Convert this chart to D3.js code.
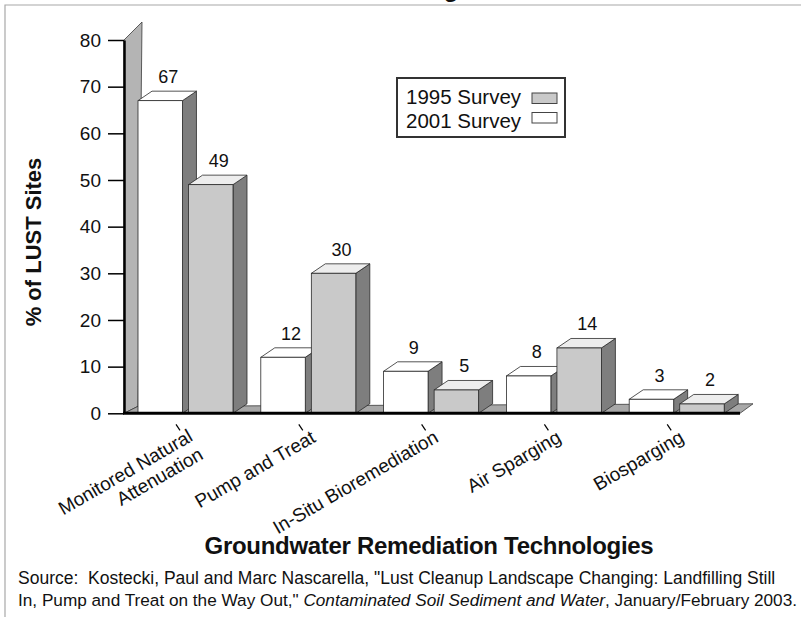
<!DOCTYPE html>
<html><head><meta charset="utf-8">
<script src="https://cdn.jsdelivr.net/npm/d3@7"></script>
<style>
body{margin:0;background:#fff}
svg{display:block}
text{font-family:"Liberation Sans",Arial,Helvetica,sans-serif;fill:#111}
</style>
</head><body>
<svg id="c" width="801" height="617"></svg>
<script>
// ---- data ----
const categories = ["MNA","PT","ISB","AS","BS"];
const categoryLabels = [["Monitored Natural","Attenuation"],["Pump and Treat"],["In-Situ Bioremediation"],["Air Sparging"],["Biosparging"]];
const seriesKeys = ["2001","1995"];
const values2001 = [67,12,9,8,3];
const values1995 = [49,30,5,14,2];
const legendLabels = ["1995 Survey","2001 Survey"];
const yTicks = [0,10,20,30,40,50,60,70,80];
const yTitle = "% of LUST Sites";
const xTitle = "Groundwater Remediation Technologies";
const sourceLine1 = "Source:  Kostecki, Paul and Marc Nascarella, \"Lust Cleanup Landscape Changing: Landfilling Still";
const sourceLine2a = "In, Pump and Treat on the Way Out,\" ";
const sourceLine2b = "Contaminated Soil Sediment and Water";
const sourceLine2c = ", January/February 2003.";

// ---- layout ----
const svg = d3.select("#c");
const axisX = 124;
const y = d3.scaleLinear().domain([0,80]).range([413.3,40]);
const x = d3.scaleBand().domain(categories).range([138,752]).paddingInner(0).paddingOuter(0);
const x1 = d3.scaleBand().domain(seriesKeys).range([0,95]).paddingInner(0.12);
const dx = 14, dy = -9.5;
const fills = {"2001":{front:"#ffffff",top:"#ffffff",side:"#7e7e7e"},
               "1995":{front:"#c9c9c9",top:"#ededed",side:"#7e7e7e"}};
const line = d3.line();

// frame
svg.append("path").attr("d","M5,617V5H801").attr("fill","none").attr("stroke","#a8a8a8").attr("stroke-width",1.2);
// cut-off title fragment (title lies above the visible area in the reference)
svg.append("text").attr("x",451).attr("y",-3).attr("text-anchor","middle").attr("font-size",24).attr("font-weight","bold").text("g");

const y0 = y(0), yTop = y(80);
const floorEnd = x.range()[1] - 12;
// back/left wall
svg.append("path").attr("d", line([[axisX,y0],[axisX,yTop],[axisX+18,yTop-18],[axisX+14,y0-7]])+"Z")
  .attr("fill","#b4b4b4").attr("stroke","#3a3a3a").attr("stroke-width",0.8);
// floor
svg.append("path").attr("d", line([[axisX,y0],[floorEnd,y0],[floorEnd+13,y0-9.5],[axisX+14,y0-7]])+"Z")
  .attr("fill","#a8a8a8").attr("stroke","#3a3a3a").attr("stroke-width",0.8);

// bars
const data = categories.map((c,i)=>({c, vals:[{k:"2001",v:values2001[i]},{k:"1995",v:values1995[i]}]}));
const bw = x1.bandwidth();
data.forEach(d=>{
  d.vals.forEach(s=>{
    const bx = x(d.c)+x1(s.k), top = y(s.v), bot = y0;
    const f = fills[s.k];
    const g = svg.append("g");
    g.append("path").attr("d", line([[bx+bw,bot],[bx+bw,top],[bx+bw+dx,top+dy],[bx+bw+dx,bot+dy]])+"Z")
      .attr("fill",f.side).attr("stroke","#2a2a2a").attr("stroke-width",0.8).attr("stroke-linejoin","round");
    g.append("path").attr("d", line([[bx,top],[bx+bw,top],[bx+bw+dx,top+dy],[bx+dx,top+dy]])+"Z")
      .attr("fill",f.top).attr("stroke","#2a2a2a").attr("stroke-width",0.8).attr("stroke-linejoin","round");
    g.append("rect").attr("x",bx).attr("y",top).attr("width",bw).attr("height",bot-top)
      .attr("fill",f.front).attr("stroke","#2a2a2a").attr("stroke-width",0.8);
    svg.append("text").attr("x",bx+bw/2+dx/2+1).attr("y",top+dy-8).attr("text-anchor","middle")
      .attr("font-size",18).text(s.v);
  });
});

// y axis
const ax = svg.append("g").attr("transform",`translate(${axisX},0)`)
  .call(d3.axisLeft(y).tickValues(yTicks).tickSize(16).tickSizeOuter(0).tickPadding(7));
ax.select(".domain").attr("stroke","#000").attr("stroke-width",2.5);
ax.selectAll(".tick line").attr("stroke","#000").attr("stroke-width",1.5);
ax.selectAll(".tick text").attr("font-size",19).attr("font-family",null).attr("fill","#111");

// front floor edge
svg.append("line").attr("x1",axisX-1).attr("x2",floorEnd).attr("y1",y0).attr("y2",y0)
  .attr("stroke","#000").attr("stroke-width",3);

// category ticks & labels
categories.forEach((c,i)=>{
  const t = x(c)+40;
  svg.append("line").attr("x1",t-2).attr("y1",y0+11).attr("x2",t+2).attr("y2",y0+17)
    .attr("stroke","#000").attr("stroke-width",1.2);
  const lines = categoryLabels[i];
  const ty = lines.length>1 ? 440 : 441;
  const txt = svg.append("text").attr("transform",`translate(${t+16},${ty}) rotate(-30)`)
    .attr("text-anchor","end").attr("font-size",19);
  lines.forEach((l,j)=>{
    txt.append("tspan").attr("x", 0).attr("dy", j===0?0:"1.1em").text(l);
  });
});

// axis titles
svg.append("text").attr("transform","translate(41,242) rotate(-90)").attr("text-anchor","middle")
  .attr("font-size",22).attr("font-weight","bold").text(yTitle);
svg.append("text").attr("x",429).attr("y",554).attr("text-anchor","middle")
  .attr("font-size",24).attr("font-weight","bold").attr("letter-spacing",-0.3).text(xTitle);

// legend
const lg = svg.append("g");
lg.append("rect").attr("x",397).attr("y",78).attr("width",168).attr("height",59)
  .attr("fill","#fff").attr("stroke","#333").attr("stroke-width",2);
const legendFill = ["#c9c9c9","#ffffff"];
legendLabels.forEach((l,i)=>{
  lg.append("text").attr("x",406).attr("y",103.5+i*24).attr("font-size",20.5).text(l);
  lg.append("rect").attr("x",532).attr("y",93+i*19.5).attr("width",25).attr("height",10.5)
    .attr("fill",legendFill[i]).attr("stroke","#444").attr("stroke-width",1);
});

// source
svg.append("text").attr("x",18).attr("y",584).attr("font-size",17.5).attr("xml:space","preserve")
  .style("white-space","pre").text(sourceLine1);
const s2 = svg.append("text").attr("x",18).attr("y",606).attr("font-size",17.2);
s2.append("tspan").text(sourceLine2a);
s2.append("tspan").attr("font-style","italic").text(sourceLine2b);
s2.append("tspan").text(sourceLine2c);
</script>
</body></html>
